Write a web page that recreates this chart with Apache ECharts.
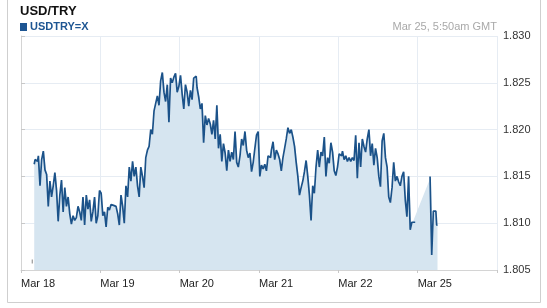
<!DOCTYPE html>
<html>
<head>
<meta charset="utf-8">
<script src="https://cdn.jsdelivr.net/npm/echarts@6/dist/echarts.min.js"></script>
<style>
html,body{margin:0;padding:0;background:#fff;}
#c{width:547px;height:308px;}
</style>
</head>
<body>
<div id="c"></div>
<script>
// Tick labels (trading days, weekend skipped)
const dayLabels = ['Mar 18', 'Mar 19', 'Mar 20', 'Mar 21', 'Mar 22', 'Mar 25', ''];
// Y axis
const yMin = 1.805, yMax = 1.830, yStep = 0.005;
// Sample grid in hours since Mar 18 00:00 (trading time)
const startHour = 4.0;
const stepHours = 0.5;
// USDTRY=X quotes (null = no quotes)
const usdtry = [
  1.8163, 1.8168, 1.8166, 1.8172, 1.8140, 1.8168, 1.8177, 1.8157, 1.8152, 1.8118,
  1.8145, 1.8128, 1.8140, 1.8154, 1.8135, 1.8102, 1.8130, 1.8146, 1.8112, 1.8138,
  1.8118, 1.8128, 1.8110, 1.8099, 1.8108, 1.8103, 1.8106, 1.8118, 1.8112, 1.8103,
  1.8128, 1.8098, 1.8130, 1.8115, 1.8125, 1.8102, 1.8112, 1.8128, 1.8100, 1.8108,
  1.8135, 1.8132, 1.8108, 1.8112, 1.8096, 1.8117, 1.8114, 1.8120, 1.8119, 1.8118,
  1.8116, 1.8110, 1.8098, 1.8130, 1.8118, 1.8100, 1.8140, 1.8128, 1.8160, 1.8145,
  1.8166, 1.8150, 1.8160, 1.8140, 1.8128, 1.8160, 1.8150, 1.8138, 1.8170, 1.8178,
  1.8182, 1.8200, 1.8195, 1.8220, 1.8228, 1.8236, 1.8226, 1.8252, 1.8261, 1.8240,
  1.8230, 1.8248, 1.8208, 1.8255, 1.8250, 1.8256, 1.8260, 1.8240, 1.8246, 1.8258,
  1.8238, 1.8222, 1.8248, 1.8240, 1.8225, 1.8242, 1.8232, 1.8255, 1.8257, 1.8245,
  1.8235, 1.8222, 1.8228, 1.8186, 1.8215, 1.8205, 1.8212, 1.8206, 1.8195, 1.8210,
  1.8190, 1.8226, 1.8180, 1.8195, 1.8166, 1.8185, 1.8175, 1.8156, 1.8178, 1.8166,
  1.8176, 1.8168, 1.8198, 1.8165, 1.8160, 1.8172, 1.8190, 1.8183, 1.8198, 1.8178,
  1.8170, 1.8175, 1.8155, 1.8165, 1.8180, 1.8194, 1.8198, 1.8150, 1.8162, 1.8158,
  1.8163, 1.8156, 1.8172, 1.8170, 1.8178, 1.8187, 1.8168, 1.8178, 1.8174, 1.8168,
  1.8156, 1.8170, 1.8180, 1.8190, 1.8202, 1.8196, 1.8200, 1.8192, 1.8182, 1.8165,
  1.8150, 1.8130, 1.8138, 1.8145, 1.8155, 1.8167, 1.8150, 1.8130, 1.8103, 1.8140,
  1.8132, 1.8160, 1.8178, 1.8160, 1.8176, 1.8172, 1.8192, 1.8150, 1.8170, 1.8164,
  1.8186, 1.8176, 1.8156, 1.8151, 1.8160, 1.8174, 1.8172, 1.8177, 1.8168, 1.8172,
  1.8166, 1.8170, 1.8166, 1.8170, 1.8167, 1.8194, 1.8148, 1.8186, 1.8160, 1.8190,
  1.8182, 1.8176, 1.8190, 1.8200, 1.8172, 1.8185, 1.8162, 1.8180, 1.8170, 1.8150,
  1.8139, 1.8188, 1.8196, 1.8170, 1.8160, 1.8128, 1.8122, 1.8138, 1.8165, 1.8145,
  1.8150, 1.8144, 1.8140, 1.8150, 1.8155, 1.8125, 1.8107, 1.8150, 1.8093, 1.8101,
  1.8101, null, null, null, null, null, null, null, null, null,
  1.8150, 1.8066, 1.8113, 1.8113, 1.8098
];
// isolated early quote
const strayQuote = [3.4, 1.8059];

const pts = usdtry.map((v, i) => [startHour + i * stepHours, v]);

const chart = echarts.init(document.getElementById('c'), null, {renderer: 'canvas'});
const FONT = 'Liberation Sans, Arial, sans-serif';
chart.setOption({
  animation: false,
  backgroundColor: '#fff',
  grid: {left: 21, right: 50, top: 36, bottom: 38},
  graphic: [
    {type: 'rect', shape: {x: 7.5, y: -5, width: 533, height: 307.5}, style: {fill: 'none', stroke: '#cfcfcf', lineWidth: 1}, silent: true},
    {type: 'text', left: 20, top: 5, style: {text: 'USD/TRY', font: 'bold 13px ' + FONT, fill: '#111'}},
    {type: 'rect', shape: {x: 20, y: 23, width: 7, height: 8}, style: {fill: '#1d5592'}},
    {type: 'text', left: 30, top: 21, style: {text: 'USDTRY=X', font: 'bold 11px ' + FONT, fill: '#1d5592'}},
    {type: 'text', right: 50, top: 21, style: {text: 'Mar 25, 5:50am GMT', font: '11px ' + FONT, fill: '#a9a9a9'}}
  ],
  xAxis: {
    type: 'value', min: 0, max: 144, interval: 24,
    axisLine: {show: true, lineStyle: {color: '#d4d4d4'}},
    axisTick: {show: true, length: 3, lineStyle: {color: '#c8c8c8'}},
    splitLine: {show: true, lineStyle: {color: '#e6ecf3'}},
    axisLabel: {
      color: '#222', fontFamily: FONT, fontSize: 11, margin: 8, align: 'left',
      formatter: v => dayLabels[Math.round(v / 24)] || ''
    }
  },
  yAxis: {
    type: 'value', position: 'right', min: yMin, max: yMax, interval: yStep,
    axisLine: {show: true, lineStyle: {color: '#d4d4d4'}},
    axisTick: {show: true, length: 4, lineStyle: {color: '#c8c8c8'}},
    splitLine: {show: true, lineStyle: {color: '#e6ecf3'}},
    axisLabel: {color: '#333', fontFamily: FONT, fontSize: 11, margin: 6, formatter: v => v.toFixed(3)}
  },
  series: [
    {
      type: 'line', data: pts, connectNulls: true, showSymbol: false, symbol: 'none',
      lineStyle: {width: 0, opacity: 0},
      areaStyle: {color: '#d6e5f0', opacity: 1, origin: 'start'},
      z: 1
    },
    {
      type: 'line', data: pts, connectNulls: false, showSymbol: false, symbol: 'none', step: 'middle',
      lineStyle: {width: 1.7, color: '#1b5289'},
      z: 3
    },
    {
      type: 'scatter', data: [strayQuote], symbol: 'rect', symbolSize: [1, 4],
      itemStyle: {color: '#666'}, z: 3
    }
  ]
});
</script>
</body>
</html>
